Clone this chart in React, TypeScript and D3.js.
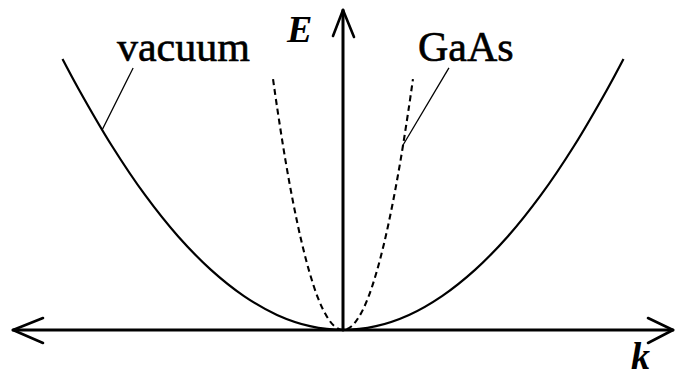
import React from "react";
import * as d3 from "d3";

// Dispersion E(k): free electron in vacuum vs. conduction band of GaAs (lighter effective mass → steeper parabola)
const vacuumK = [-0.85, -0.8, -0.7, -0.6, -0.5, -0.4, -0.3, -0.2, -0.1, 0, 0.1, 0.2, 0.3, 0.4, 0.5, 0.6, 0.7, 0.8, 0.85];
const vacuumE = [0.847, 0.751, 0.575, 0.422, 0.293, 0.188, 0.106, 0.047, 0.012, 0, 0.012, 0.047, 0.106, 0.188, 0.293, 0.422, 0.575, 0.751, 0.847];

const gaasK = [-0.212, -0.2, -0.175, -0.15, -0.125, -0.1, -0.075, -0.05, -0.025, 0, 0.025, 0.05, 0.075, 0.1, 0.125, 0.15, 0.175, 0.2, 0.212];
const gaasE = [0.784, 0.698, 0.534, 0.393, 0.273, 0.175, 0.098, 0.044, 0.011, 0, 0.011, 0.044, 0.098, 0.175, 0.273, 0.393, 0.534, 0.698, 0.784];

// Curve labels with leader lines: label anchor (k, E), leader start (k, E), leader end on curve (k, E)
const labelTexts = ["vacuum", "GaAs"];
const labelAnchorK = [-0.685, 0.227];
const labelAnchorE = [0.84, 0.84];
const leaderStartK = [-0.636, 0.321];
const leaderStartE = [0.819, 0.819];
const leaderEndK = [-0.73, 0.182];
const leaderEndE = [0.625, 0.578];

const axisLabels = ["E", "k"];

const W = 675;
const H = 378;

export default function App() {
  const x = d3.scaleLinear().domain([-1, 1]).range([13, 673]);
  const y = d3.scaleLinear().domain([0, 1]).range([330, 10]);

  const line = d3
    .line<[number, number]>()
    .x((d) => x(d[0]))
    .y((d) => y(d[1]))
    .curve(d3.curveCatmullRom.alpha(0.5));

  const vacuumPts: [number, number][] = vacuumK.map((k, i) => [k, vacuumE[i]]);
  const gaasPts: [number, number][] = gaasK.map((k, i) => [k, gaasE[i]]);

  const x0 = x(0);
  const y0 = y(0);
  const xl = x(-1);
  const xr = x(1);
  const yt = y(1);

  const serif = "'Liberation Serif', 'DejaVu Serif', serif";

  return (
    <svg
      width={W}
      height={H}
      viewBox={`0 0 ${W} ${H}`}
      style={{ position: "fixed", left: 0, top: 0, background: "#fff" }}
    >
      <rect width={W} height={H} fill="#fff" />

      {/* k axis, double-headed */}
      <g stroke="#000" fill="none" strokeLinecap="round" strokeLinejoin="round">
        <line x1={xl} y1={y0} x2={xr} y2={y0} strokeWidth={3} />
        <path d={`M${xl + 30},${y0 - 12} L${xl},${y0} L${xl + 30},${y0 + 13}`} strokeWidth={2.6} />
        <path d={`M${xr - 25},${y0 - 12} L${xr},${y0} L${xr - 25},${y0 + 13}`} strokeWidth={2.6} />

        {/* E axis */}
        <line x1={x0} y1={y0} x2={x0} y2={yt} strokeWidth={3} />
        <path d={`M${x0 - 10},${yt + 26} L${x0},${yt} L${x0 + 11},${yt + 27}`} strokeWidth={2.6} />
      </g>

      {/* vacuum parabola */}
      <path d={line(vacuumPts) ?? ""} fill="none" stroke="#000" strokeWidth={2.2} />

      {/* GaAs parabola */}
      <path
        d={line(gaasPts) ?? ""}
        fill="none"
        stroke="#000"
        strokeWidth={2.1}
        strokeDasharray="6,4"
      />

      {/* leader lines */}
      {labelTexts.map((t, i) => (
        <line
          key={`leader-${t}`}
          x1={x(leaderStartK[i])}
          y1={y(leaderStartE[i])}
          x2={x(leaderEndK[i])}
          y2={y(leaderEndE[i])}
          stroke="#000"
          strokeWidth={1.3}
        />
      ))}

      {/* curve labels */}
      {labelTexts.map((t, i) => (
        <text
          key={`label-${t}`}
          x={x(labelAnchorK[i])}
          y={y(labelAnchorE[i])}
          fontFamily={serif}
          fontSize={42}
          fill="#000"
          stroke="#000"
          strokeWidth={0.6}
        >
          {t}
        </text>
      ))}

      {/* axis names */}
      <text
        x={x0 - 56}
        y={42}
        fontFamily={serif}
        fontSize={38}
        fontWeight="bold"
        fontStyle="italic"
        fill="#000"
      >
        {axisLabels[0]}
      </text>
      <text
        x={631}
        y={369}
        fontFamily={serif}
        fontSize={38}
        fontWeight="bold"
        fontStyle="italic"
        fill="#000"
      >
        {axisLabels[1]}
      </text>
    </svg>
  );
}
